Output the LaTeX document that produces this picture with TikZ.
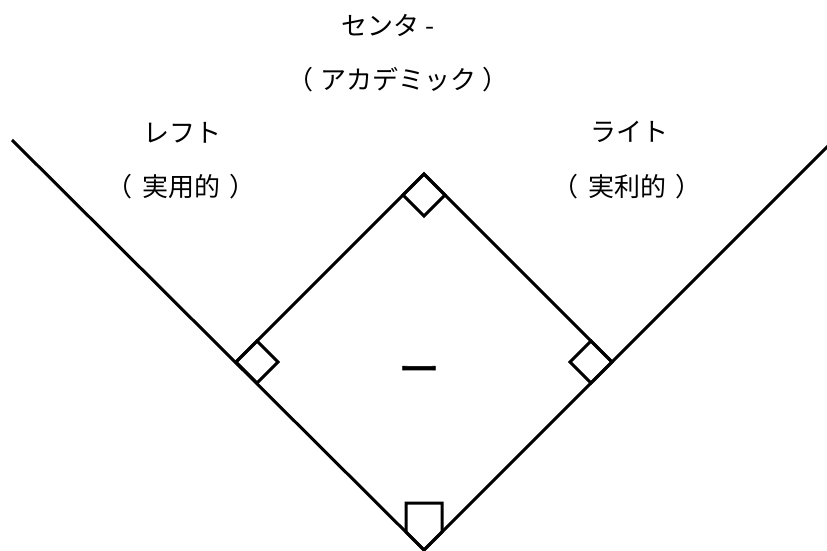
\documentclass[tikz,border=0pt]{standalone}
\usepackage{fontspec}
\setmainfont{Noto Sans CJK JP}
\newfontfamily\pitchfont{Noto Sans CJK JP}[FakeBold=1.5]

\begin{document}
\begin{tikzpicture}[x=1pt,y=-1pt]
  \tikzset{field/.style={line width=3pt, line join=miter}}
  \tikzset{lbl/.style={font=\fontsize{26}{30}\selectfont, inner sep=0pt}}
  \useasboundingbox (0,0) rectangle (827,551);
  % field corners
  \coordinate (home) at (424,550);
  \coordinate (first) at (612,362);
  \coordinate (second) at (424,174);
  \coordinate (third) at (236,362);
  \coordinate (leftpole) at (12,140);
  \coordinate (rightpole) at (832,142);
  % foul lines and diamond
  \draw[field] (leftpole) -- (home) -- (rightpole);
  \draw[field] (third) -- (second) -- (first);
  % bases
  \draw[field] (second) -- ++(-21,21) -- ++(21,21) -- ++(21,-21) -- cycle;
  \draw[field] (third) -- ++(21,-21) -- ++(21,21) -- ++(-21,21) -- cycle;
  \draw[field] (first) -- ++(-21,-21) -- ++(-21,21) -- ++(21,21) -- cycle;
  \draw[field] (home) -- ++(-18,-18) -- ++(0,-29) -- ++(36,0) -- ++(0,29) -- cycle;
  % labels
  \node[lbl] (centerlbl) at (388,25) {センタ -};
  \node[lbl] (centersub) at (398,80) {\kern-0.3em（\kern0.25emアカデミック\kern0.25em）\kern-0.3em};
  \node[lbl] (leftlbl) at (182,133) {レフト};
  \node[lbl] (leftsub) at (181,187) {\kern-0.3em（\kern0.35em実用的\kern0.35em）\kern-0.3em};
  \node[lbl] (rightlbl) at (629,132) {ライト};
  \node[lbl] (rightsub) at (627,187) {\kern-0.3em（\kern0.35em実利的\kern0.35em）\kern-0.3em};
  \node[lbl, font=\fontsize{41}{42}\pitchfont] (pitcher) at (419,375) {ー};
\end{tikzpicture}
\end{document}
